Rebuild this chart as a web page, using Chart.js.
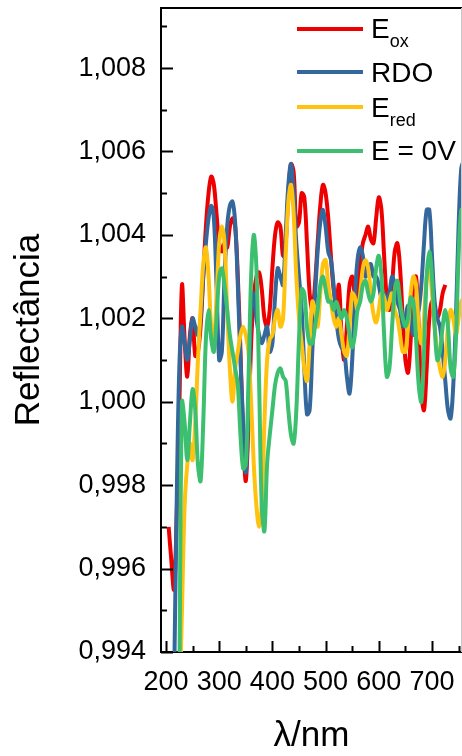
<!DOCTYPE html>
<html>
<head>
<meta charset="utf-8">
<script src="https://cdn.jsdelivr.net/npm/chart.js@4/dist/chart.umd.min.js"></script>
<style>
  html, body { margin: 0; padding: 0; background: #fff; }
  #wrap { position: relative; width: 462px; height: 756px; overflow: hidden; }
  .leg-line { position: absolute; left: 297px; width: 66px; height: 4px; }
  .leg-text { position: absolute; left: 371px; font: 28px "Liberation Sans", Arial, sans-serif; line-height: 28px; color: #000; white-space: nowrap; }
  .leg-text span { font-size: 18px; position: relative; top: 9px; }
</style>
</head>
<body>
<div id="wrap">
  <canvas id="chart" width="462" height="756"></canvas>
</div>
<script>
// wavelength (nm), 5 nm steps
const lambda = [
  205, 210, 215, 220, 225, 230, 235, 240, 245, 250,
  255, 260, 265, 270, 275, 280, 285, 290, 295, 300,
  305, 310, 315, 320, 325, 330, 335, 340, 345, 350,
  355, 360, 365, 370, 375, 380, 385, 390, 395, 400,
  405, 410, 415, 420, 425, 430, 435, 440, 445, 450,
  455, 460, 465, 470, 475, 480, 485, 490, 495, 500,
  505, 510, 515, 520, 525, 530, 535, 540, 545, 550,
  555, 560, 565, 570, 575, 580, 585, 590, 595, 600,
  605, 610, 615, 620, 625, 630, 635, 640, 645, 650,
  655, 660, 665, 670, 675, 680, 685, 690, 695, 700,
  705, 710, 715, 720, 725, 730, 735, 740, 745, 750,
  755, 760
];

const eOx = [
  0.9970, 0.9962, 0.9955, 0.9972, 0.9998, 1.0028, 1.0015, 1.0006, 1.0016, 1.0020,
  1.0011, 1.0012, 1.0018, 1.0030, 1.0042, 1.0050, 1.0054, 1.0052, 1.0045, 1.0038,
  1.0036, 1.0038, 1.0037, 1.0042, 1.0044, 1.0042, 1.0030, 1.0012, 0.9992, 0.9981,
  0.9995, 1.0014, 1.0025, 1.0030, 1.0031, 1.0027, 1.0020, 1.0018, 1.0022, 1.0032,
  1.0040, 1.0043, 1.0042, 1.0035, 1.0038, 1.0050, 1.0057, 1.0055, 1.0042, 1.0043,
  1.0050, 1.0049, 1.0038, 1.0026, 1.0022, 1.0028, 1.0038, 1.0047, 1.0052, 1.0050,
  1.0044, 1.0035, 1.0027, 1.0024, 1.0028, 1.0016, 1.0010, 1.0018, 1.0028, 1.0030,
  1.0026, 1.0025, 1.0033, 1.0038, 1.0040, 1.0042, 1.0039, 1.0038, 1.0044, 1.0049,
  1.0046, 1.0035, 1.0025, 1.0022, 1.0028, 1.0036, 1.0038, 1.0032, 1.0020, 1.0010,
  1.0007, 1.0015, 1.0028, 1.0030, 1.0018, 1.0002, 0.9998, 1.0008, 1.0020, 1.0024,
  1.0022, 1.0020, 1.0022, 1.0026, 1.0028, null, null, null, null, null,
  null, null
];

const rdo = [
  null, null, 0.9930, 0.9975, 1.0008, 1.0018, 1.0014, 1.0010, 1.0015, 1.0020,
  1.0018, 1.0016, 1.0020, 1.0030, 1.0038, 1.0044, 1.0047, 1.0044, 1.0028, 1.0010,
  1.0012, 1.0030, 1.0042, 1.0047, 1.0048, 1.0043, 1.0028, 1.0010, 0.9995, 0.9983,
  0.9998, 1.0022, 1.0026, 1.0020, 1.0016, 1.0014, 1.0016, 1.0018, 1.0012, 1.0014,
  1.0025, 1.0032, 1.0030, 1.0028, 1.0040, 1.0052, 1.0057, 1.0050, 1.0038, 1.0030,
  1.0022, 1.0008, 0.9997, 0.9998, 1.0012, 1.0025, 1.0036, 1.0043, 1.0046, 1.0042,
  1.0036, 1.0034, 1.0028, 1.0020, 1.0015, 1.0013, 1.0012, 1.0006, 1.0002, 1.0010,
  1.0025, 1.0034, 1.0037, 1.0035, 1.0030, 1.0032, 1.0033, 1.0030, 1.0030, 1.0028,
  1.0025, 1.0026, 1.0024, 1.0026, 1.0030, 1.0028, 1.0024, 1.0022, 1.0018, 1.0020,
  1.0023, 1.0020, 1.0016, 1.0020, 1.0022, 1.0028, 1.0038, 1.0046, 1.0046, 1.0035,
  1.0024, 1.0020, 1.0018, 1.0012, 1.0005, 0.9998, 0.9996, 1.0004, 1.0020, 1.0042,
  1.0056, 1.0058
];

const eRed = [
  null, null, null, null, 0.9925, 0.9950, 0.9975, 0.9985, 0.9990, 0.9986,
  0.9995, 1.0010, 1.0022, 1.0033, 1.0037, 1.0030, 1.0018, 1.0015, 1.0025, 1.0038,
  1.0042, 1.0038, 1.0022, 1.0008, 1.0000, 1.0008, 1.0012, 1.0016, 1.0018, 1.0016,
  1.0012, 1.0000, 0.9985, 0.9975, 0.9970, 0.9975, 0.9995, 1.0010, 1.0015, 1.0016,
  1.0020, 1.0022, 1.0018, 1.0020, 1.0035, 1.0048, 1.0052, 1.0045, 1.0030, 1.0020,
  1.0014, 1.0008, 1.0005, 1.0014, 1.0024, 1.0022, 1.0018, 1.0026, 1.0033, 1.0034,
  1.0028, 1.0024, 1.0020, 1.0018, 1.0020, 1.0016, 1.0012, 1.0011, 1.0018, 1.0026,
  1.0025, 1.0022, 1.0026, 1.0032, 1.0034, 1.0032, 1.0026, 1.0021, 1.0019, 1.0022,
  1.0026, 1.0025, 1.0022, 1.0024, 1.0026, 1.0022, 1.0020, 1.0016, 1.0012, 1.0012,
  1.0018, 1.0026, 1.0030, 1.0028, 1.0018, 1.0014, 1.0020, 1.0030, 1.0032, 1.0026,
  1.0018, 1.0012, 1.0008, 1.0006, 1.0010, 1.0018, 1.0022, 1.0020, 1.0016, 1.0020,
  1.0024, 1.0025
];

const e0V = [
  null, null, null, null, 0.9930, 1.0000, 0.9995, 0.9986, 0.9995, 1.0003,
  0.9998, 0.9985, 0.9981, 0.9995, 1.0015, 1.0022, 1.0015, 1.0012, 1.0020, 1.0030,
  1.0032, 1.0028, 1.0022, 1.0016, 1.0012, 1.0008, 1.0004, 0.9992, 0.9984, 0.9985,
  1.0005, 1.0030, 1.0040, 1.0032, 1.0005, 0.9975, 0.9969, 0.9985, 0.9992, 0.9998,
  1.0004, 1.0007, 1.0008, 1.0006, 1.0005, 0.9998, 0.9992, 0.9990, 0.9998, 1.0015,
  1.0027, 1.0026, 1.0018, 1.0014, 1.0014, 1.0018, 1.0022, 1.0028, 1.0030, 1.0027,
  1.0024, 1.0024, 1.0022, 1.0024, 1.0022, 1.0020, 1.0022, 1.0020, 1.0016, 1.0013,
  1.0016, 1.0022, 1.0024, 1.0028, 1.0029, 1.0026, 1.0024, 1.0026, 1.0032, 1.0035,
  1.0030, 1.0016, 1.0006, 1.0008, 1.0018, 1.0027, 1.0029, 1.0024, 1.0020, 1.0018,
  1.0020, 1.0025, 1.0024, 1.0015, 1.0004, 1.0000, 1.0012, 1.0030, 1.0036, 1.0030,
  1.0018, 1.0010, 1.0012, 1.0018, 1.0022, 1.0018, 1.0008, 1.0006, 1.0015, 1.0035,
  1.0046, 1.0046
];

const xTicks = [200, 300, 400, 500, 600, 700];
const yTicks = [0.994, 0.996, 0.998, 1.000, 1.002, 1.004, 1.006, 1.008];

const seriesNames = [["E", "ox"], ["RDO", ""], ["E", "red"], ["E = 0V", ""]];
const seriesColors = ["#ee0000", "#34679b", "#ffc20e", "#3cbf6f"];
const seriesData = [eOx, rdo, eRed, e0V];

const FONT = '"Liberation Sans", Arial, sans-serif';

// legend (html so the subscripts work)
const wrap = document.getElementById("wrap");
const legLineY = [29, 72, 107, 151];
const legTextY = [15, 59, 94, 137];
seriesNames.forEach((n, i) => {
  const line = document.createElement("div");
  line.className = "leg-line";
  line.style.top = (legLineY[i] - 2) + "px";
  line.style.background = seriesColors[i];
  wrap.appendChild(line);
  const txt = document.createElement("div");
  txt.className = "leg-text";
  txt.style.top = legTextY[i] + "px";
  txt.textContent = n[0];
  if (n[1]) {
    const sub = document.createElement("span");
    sub.textContent = n[1];
    txt.appendChild(sub);
  }
  wrap.appendChild(txt);
});

// top frame line + inward tick marks
const frame = {
  id: "frame",
  afterDatasetsDraw(chart) {
    const { ctx, chartArea: a, scales: { x, y } } = chart;
    ctx.save();
    ctx.strokeStyle = "#000";
    ctx.lineWidth = 2;
    ctx.beginPath();
    ctx.moveTo(a.left - 1, a.top);
    ctx.lineTo(a.right, a.top);
    for (let i = 0; i <= 15; i++) {
      const py = Math.round(y.getPixelForValue(0.994 + i * 0.001)) + 0.5;
      const len = i % 2 === 0 ? 12 : 6;
      ctx.moveTo(a.left, py);
      ctx.lineTo(a.left + len, py);
    }
    for (let v = 200; v <= 750; v += 50) {
      const px = Math.round(x.getPixelForValue(v)) + 0.5;
      const len = v % 100 === 0 ? 11 : 6;
      ctx.moveTo(px, a.bottom);
      ctx.lineTo(px, a.bottom - len);
    }
    ctx.stroke();
    ctx.strokeStyle = "#c8c8c8";
    ctx.lineWidth = 1;
    ctx.beginPath();
    ctx.moveTo(a.right - 0.5, a.top);
    ctx.lineTo(a.right - 0.5, a.bottom);
    ctx.stroke();
    ctx.restore();
  }
};

new Chart(document.getElementById("chart"), {
  type: "line",
  data: {
    labels: lambda,
    datasets: seriesData.map((d, i) => ({
      label: seriesNames[i].join(""),
      data: d,
      borderColor: seriesColors[i],
      borderWidth: 4,
      pointRadius: 0,
      tension: 0.35,
      fill: false,
      order: 4 - i,
    })),
  },
  options: {
    responsive: false,
    animation: false,
    events: [],
    layout: { padding: { top: 8, right: 0, left: 0, bottom: 0 } },
    plugins: {
      legend: { display: false },
      tooltip: { enabled: false },
    },
    scales: {
      x: {
        type: "linear",
        min: 190.6,
        max: 756.4,
        afterFit(scale) {
          scale.height = 104;
          scale.paddingLeft = 0;
          scale.paddingRight = 0;
        },
        afterBuildTicks(scale) { scale.ticks = xTicks.map((v) => ({ value: v })); },
        grid: { display: false, drawTicks: false },
        border: { display: true, color: "#000", width: 2 },
        ticks: {
          color: "#000",
          padding: 14,
          maxRotation: 0,
          autoSkip: false,
          font: { family: FONT, size: 27 },
        },
        title: {
          display: true,
          text: "λ/nm",
          color: "#000",
          font: { family: FONT, size: 35, lineHeight: 1.15 },
          padding: { top: 0, bottom: 0 },
        },
      },
      y: {
        min: 0.994,
        max: 1.00944,
        afterFit(scale) {
          scale.width = 161;
          scale.paddingTop = 0;
          scale.paddingBottom = 0;
        },
        afterBuildTicks(scale) { scale.ticks = yTicks.map((v) => ({ value: v })); },
        grid: { display: false, drawTicks: false },
        border: { display: true, color: "#000", width: 2 },
        ticks: {
          color: "#000",
          padding: 15,
          autoSkip: false,
          font: { family: FONT, size: 27 },
          callback: (v) => v.toFixed(3).replace(".", ","),
        },
        title: {
          display: true,
          text: "Reflectância",
          color: "#000",
          font: { family: FONT, size: 35, lineHeight: 1.2 },
          padding: { top: 8, bottom: 0 },
        },
      },
    },
  },
  plugins: [frame],
});
</script>
</body>
</html>
